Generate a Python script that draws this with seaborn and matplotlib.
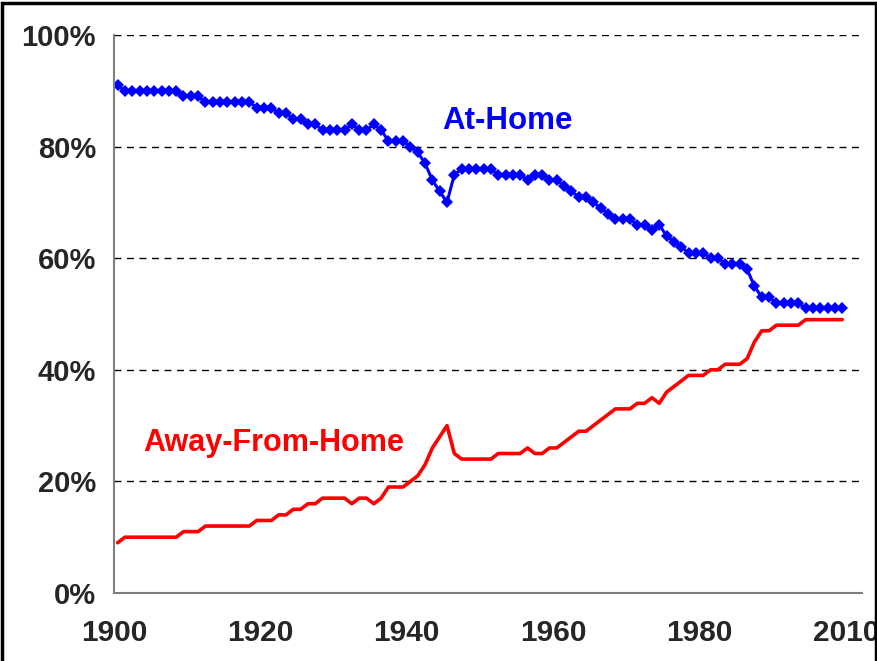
import numpy as np
import pandas as pd
import matplotlib
matplotlib.use('Agg')
import matplotlib.pyplot as plt
import seaborn as sns
from matplotlib.patches import Rectangle

# annual food spending shares, 1900 onwards (one point per year)
years = list(range(1900, 2000))
at_home = [91, 90, 90, 90, 90, 90, 90, 90, 90, 89,
           89, 89, 88, 88, 88, 88, 88, 88, 88, 87,
           87, 87, 86, 86, 85, 85, 84, 84, 83, 83,
           83, 83, 84, 83, 83, 84, 83, 81, 81, 81,
           80, 79, 77, 74, 72, 70, 75, 76, 76, 76,
           76, 76, 75, 75, 75, 75, 74, 75, 75, 74,
           74, 73, 72, 71, 71, 70, 69, 68, 67, 67,
           67, 66, 66, 65, 66, 64, 63, 62, 61, 61,
           61, 60, 60, 59, 59, 59, 58, 55, 53, 53,
           52, 52, 52, 52, 51, 51, 51, 51, 51, 51]
away_from_home = [9, 10, 10, 10, 10, 10, 10, 10, 10, 11,
                  11, 11, 12, 12, 12, 12, 12, 12, 12, 13,
                  13, 13, 14, 14, 15, 15, 16, 16, 17, 17,
                  17, 17, 16, 17, 17, 16, 17, 19, 19, 19,
                  20, 21, 23, 26, 28, 30, 25, 24, 24, 24,
                  24, 24, 25, 25, 25, 25, 26, 25, 25, 26,
                  26, 27, 28, 29, 29, 30, 31, 32, 33, 33,
                  33, 34, 34, 35, 34, 36, 37, 38, 39, 39,
                  39, 40, 40, 41, 41, 41, 42, 45, 47, 47,
                  48, 48, 48, 48, 49, 49, 49, 49, 49, 49]
tick_years = list(range(1900, 2001, 10))
tick_labels = ['1900', '', '1920', '', '1940', '', '1960', '', '1980', '', '2010']
y_ticks = [0, 20, 40, 60, 80, 100]

df = pd.DataFrame({'year': years, 'home': at_home, 'away': away_from_home})
# points sit in the middle of each yearly slot
df['pos'] = df['year'] + 0.5

sns.set_style('white')
plt.rcParams['font.family'] = ['Liberation Sans', 'DejaVu Sans']

fig = plt.figure(figsize=(8.78, 6.61), dpi=100)
ax = fig.add_axes([0.1298, 0.1029, 0.852, 0.844])

sns.lineplot(data=df, x='pos', y='away', ax=ax, color='#FF0000', linewidth=2.6)
sns.lineplot(data=df, x='pos', y='home', ax=ax, color='#0000FF', linewidth=2.2,
             marker='D', markersize=6.5, markeredgewidth=0)

ax.set_xlim(1900, 2002.2)
ax.set_ylim(0, 100)

for v in y_ticks[1:]:
    ax.axhline(v, color='black', linewidth=1, linestyle=(0, (5, 4)), zorder=0)

ax.set_xticks(tick_years)
ax.set_xticklabels(tick_labels)
ax.set_yticks(y_ticks)
ax.set_yticklabels([f'{v}%' for v in y_ticks])
for lab in ax.get_xticklabels():
    lab.set_family(['Liberation Sans Narrow', 'Liberation Sans'])
    lab.set_fontweight('bold')
    lab.set_fontsize(21.5)
for lab in ax.get_yticklabels():
    lab.set_fontweight('bold')
    lab.set_fontsize(21)

ax.tick_params(axis='x', direction='out', length=6, width=1, color='#808080', pad=13)
ax.tick_params(axis='y', direction='out', length=5, width=1, color='#808080', pad=8)
ax.set_xlabel('')
ax.set_ylabel('')

for side in ['top', 'right']:
    ax.spines[side].set_visible(False)
for side in ['left', 'bottom']:
    ax.spines[side].set_color('#808080')
    ax.spines[side].set_linewidth(1.5)

ax.text(1953.8, 84.6, 'At-Home', color='#0000FF', fontsize=22.5, fontweight='bold',
        ha='center', va='center')
ax.text(1921.8, 26.9, 'Away-From-Home', color='#FF0000', fontsize=22, fontweight='bold',
        ha='center', va='center')

fig.patches.append(Rectangle((0.002, -0.01), 0.996, 1.005, transform=fig.transFigure,
                             fill=False, edgecolor='black', linewidth=2.5))

fig.savefig('out.png', dpi=100)
